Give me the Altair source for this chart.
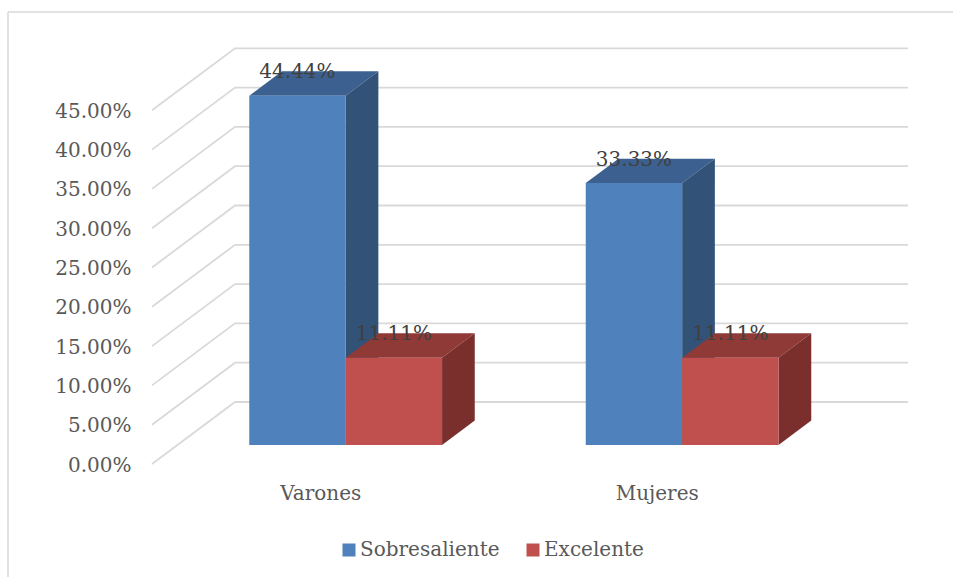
import altair as alt
import pandas as pd

# Chart values
categories = ["Varones", "Mujeres"]
series = ["Sobresaliente", "Excelente"]
sobresaliente = [0.4444, 0.3333]
excelente = [0.1111, 0.1111]
y_ticks = [0.00, 0.05, 0.10, 0.15, 0.20, 0.25, 0.30, 0.35, 0.40, 0.45]

front_colors = ["#4F81BD", "#C0504D"]
top_colors = ["#3C608F", "#8F3A37"]
side_colors = ["#325278", "#7B2F2D"]

# Plot geometry: one category slot is 336.5 px wide, one unit of share is 786 px tall
PLOT_W, PLOT_H = 756, 416
SLOT_PX, SHARE_PX = 336.5, 786.0
X_MAX = PLOT_W / SLOT_PX
Y_MAX = PLOT_H / SHARE_PX

# The oblique floor recedes by these amounts, expressed in axis units
DEPTH_X = 83.0 / SLOT_PX
DEPTH_Y = 62.0 / SHARE_PX

# Bars occupy this share of a slot, and sit at these depths on the floor
BAR_W = 0.2865
Z_FRONT, Z_BACK = 0.306, 0.70
BAR_DX = (Z_BACK - Z_FRONT) * DEPTH_X
BAR_DY = (Z_BACK - Z_FRONT) * DEPTH_Y


def floor_x(u, z=0.0):
    return u + z * DEPTH_X


def floor_y(v, z=0.0):
    return v + z * DEPTH_Y


# Back wall and side wall gridlines
grid_rows = []
for t in y_ticks:
    for k, (xv, yv) in enumerate([(0, t), (DEPTH_X, t + DEPTH_Y), (X_MAX, t + DEPTH_Y)]):
        grid_rows.append({"level": t, "k": k, "x": xv, "y": yv})

front_rows, face_rows, label_rows = [], [], []
for s, values in enumerate([sobresaliente, excelente]):
    for c, v in enumerate(values):
        slot_mid = c + 0.5
        x0 = floor_x(slot_mid - BAR_W + s * BAR_W, Z_FRONT)
        x1 = x0 + BAR_W
        base = floor_y(0, Z_FRONT)
        top = base + v
        front_rows.append({"serie": series[s], "x": x0, "x2": x1, "y": base, "y2": top})

        top_key = f"{s}-{c}-top"
        for xv, lo, hi in [
            (x0, top, top),
            (x0 + BAR_DX, top, top + BAR_DY),
            (x1, top, top + BAR_DY),
            (x1 + BAR_DX, top + BAR_DY, top + BAR_DY),
        ]:
            face_rows.append({"s": s, "piece": top_key, "x": xv, "y": lo, "y2": hi, "shade": top_colors[s]})

        side_key = f"{s}-{c}-side"
        for xv, lo, hi in [(x1, base, top), (x1 + BAR_DX, base + BAR_DY, top + BAR_DY)]:
            face_rows.append({"s": s, "piece": side_key, "x": xv, "y": lo, "y2": hi, "shade": side_colors[s]})

        label_rows.append({"x": (x0 + x1) / 2, "y": top + BAR_DY, "value": v})

grid_df = pd.DataFrame(grid_rows)
front_df = pd.DataFrame(front_rows)
face_df = pd.DataFrame(face_rows)
label_df = pd.DataFrame(label_rows)

FONT = "DejaVu Serif"
FONT_SIZE = 20
x_scale = alt.Scale(domain=[0, X_MAX], nice=False, zero=False)
y_scale = alt.Scale(domain=[0, Y_MAX], nice=False, zero=False)

x_axis = alt.Axis(
    values=[0.5, 1.5],
    labelExpr=f"datum.value < 1 ? '{categories[0]}' : '{categories[1]}'",
    title=None,
    domain=False,
    ticks=False,
    grid=False,
    labelFont=FONT,
    labelFontSize=FONT_SIZE,
    labelColor="#595959",
    labelPadding=19,
    labelFlush=False,
    labelOverlap=False,
)
y_axis = alt.Axis(
    values=y_ticks,
    format=".2%",
    title=None,
    domain=False,
    ticks=False,
    grid=False,
    labelFont=FONT,
    labelFontSize=FONT_SIZE,
    labelColor="#595959",
    labelPadding=21,
    labelOffset=1,
    labelOverlap=False,
)
x_enc = alt.X("x:Q", scale=x_scale, axis=x_axis)
y_enc = alt.Y("y:Q", scale=y_scale, axis=y_axis)

# Outer chart frame: only the top and left edges fall inside the canvas
frame_top = alt.Chart(pd.DataFrame({"a": [0]})).mark_rule(color="#D9D9D9", strokeWidth=1.5).encode(
    x=alt.value(-144), x2=alt.value(801), y=alt.value(-36)
)
frame_left = alt.Chart(pd.DataFrame({"a": [0]})).mark_rule(color="#D9D9D9", strokeWidth=1.5).encode(
    x=alt.value(-144), y=alt.value(-36), y2=alt.value(529)
)

grid = alt.Chart(grid_df).mark_line(color="#D9D9D9", strokeWidth=1.8).encode(
    x=x_enc,
    y=y_enc,
    detail="level:N",
    order="k:Q",
)


def shaded_faces(s):
    return alt.Chart(face_df[face_df["s"] == s]).mark_area(opacity=1).encode(
        x=x_enc,
        y=y_enc,
        y2="y2:Q",
        detail="piece:N",
        fill=alt.Fill("shade:N", scale=None),
    )


fronts = alt.Chart(front_df).mark_rect().encode(
    x=x_enc,
    x2="x2:Q",
    y=y_enc,
    y2="y2:Q",
    color=alt.Color(
        "serie:N",
        scale=alt.Scale(domain=series, range=front_colors),
        legend=alt.Legend(
            orient="none",
            legendX=187,
            legendY=492,
            direction="horizontal",
            title=None,
            symbolType="square",
            symbolSize=169,
            symbolStrokeWidth=0,
            labelFont=FONT,
            labelFontSize=FONT_SIZE,
            labelColor="#595959",
            labelOffset=1,
            columnPadding=23,
            padding=0,
        ),
    ),
)

labels = alt.Chart(label_df).mark_text(
    font=FONT, fontSize=FONT_SIZE, color="#404040", baseline="middle", align="center", dy=1
).encode(
    x=x_enc,
    y=y_enc,
    text=alt.Text("value:Q", format=".2%"),
)

chart = alt.layer(
    frame_top, frame_left, grid, shaded_faces(0), shaded_faces(1), fronts, labels
).properties(
    width=PLOT_W,
    height=PLOT_H,
    background="white",
    autosize=alt.AutoSizeParams(type="none"),
    padding={"left": 152, "top": 48, "right": 45, "bottom": 113},
).configure_view(stroke=None)

chart.save("out.html", embed_options={"renderer": "svg", "actions": False})
